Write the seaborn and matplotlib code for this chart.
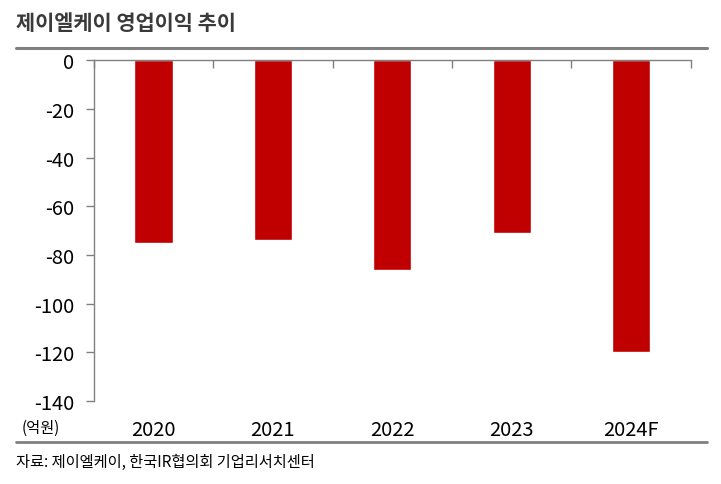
import pandas as pd
import seaborn as sns
from matplotlib import pyplot as plt

# Chart data
years = ['2020', '2021', '2022', '2023', '2024F']
op_profit = [-75, -74, -86, -71, -120]
y_ticks = [0, -20, -40, -60, -80, -100, -120, -140]

df = pd.DataFrame({'year': years, 'value': op_profit})

sns.set_theme(style="white")
plt.rcParams['font.family'] = ['Noto Sans CJK KR', 'DejaVu Sans']

fig = plt.figure(figsize=(7.21, 4.85), dpi=100)
ax = fig.add_axes([0.130, 0.171, 0.828, 0.703])

sns.barplot(x='year', y='value', data=df, color='#C00000', width=0.32,
            saturation=1, ax=ax)

ax.set_ylim(-140, 0)
ax.set_yticks(y_ticks)
ax.set_yticklabels([str(t) for t in y_ticks])
ax.set_xlim(-0.5, len(years) - 0.5)
ax.set_xlabel('')
ax.set_ylabel('')

# spines: left + top only
for side in ['right', 'bottom']:
    ax.spines[side].set_visible(False)
for side in ['left', 'top']:
    ax.spines[side].set_color('#808080')
    ax.spines[side].set_linewidth(1)

ax.tick_params(axis='y', which='major', left=True, length=6, width=1,
               color='#808080', labelsize=14.5, pad=8, labelcolor='#000000')
ax.tick_params(axis='x', which='major', bottom=False, length=0,
               labelsize=14.5, pad=13, labelcolor='#000000')

# category boundary ticks on the top axis, pointing down
ax.set_xticks([i - 0.5 for i in range(len(years) + 1)], minor=True)
ax.tick_params(axis='x', which='minor', top=True, bottom=False,
               direction='in', length=6, width=1, color='#808080')

# title and separator lines
fig.text(0.022, 0.952, '제이엘케이 영업이익 추이', fontsize=15, fontweight='bold',
         color='#3a3a3a', va='center', ha='left')
fig.add_artist(plt.Line2D([0.022, 0.981], [0.899, 0.899], color='#808080',
                          linewidth=2.2, transform=fig.transFigure))
fig.text(0.030, 0.117, '(억원)', fontsize=11, color='#000000',
         va='center', ha='left')
fig.add_artist(plt.Line2D([0.022, 0.981], [0.087, 0.087], color='#808080',
                          linewidth=2, transform=fig.transFigure))
fig.text(0.022, 0.047, '자료: 제이엘케이, 한국IR협의회 기업리서치센터', fontsize=11,
         color='#000000', va='center', ha='left')

fig.savefig('out.png', dpi=100)
